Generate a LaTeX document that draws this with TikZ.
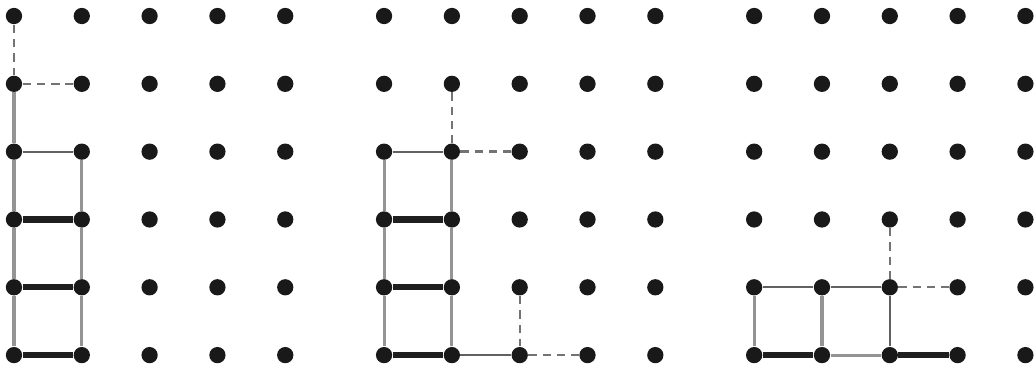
\documentclass[tikz,border=0pt]{standalone}
\begin{document}
\begin{tikzpicture}[x=1cm, y=1cm,
    dot/.style={circle, fill=black!90, inner sep=0pt, minimum size=0.24cm},
    rung/.style={line width=2.6pt, black!88},
    rail/.style={line width=1.3pt, black!42},
    tie/.style={line width=0.9pt, black!62},
    trial/.style={line width=1pt, black!55, dash pattern=on 3.5pt off 2.5pt}]
    \useasboundingbox (-0.206,-0.221) rectangle (15.07,5.236);

    % ==== DOTS ====
    \foreach \g/\ox in {a/0, b/5.457, c/10.914}
        \foreach \i in {0,...,4}
            \foreach \j in {0,...,5}
                \node[dot] (\g\i\j) at (\ox+\i,\j) {};

    % ==== LEFT GRID ====
    \draw[trial] (a05) -- (a04);
    \draw[trial] (a04) -- (a14);
    \draw[rail] (a04) -- (a03);
    \draw[tie] (a03) -- (a13);
    \draw[rail] (a03) -- (a02) -- (a01) -- (a00);
    \draw[rail] (a13) -- (a12) -- (a11) -- (a10);
    \draw[rung] (a02) -- (a12);
    \draw[rung] (a01) -- (a11);
    \draw[rung] (a00) -- (a10);

    % ==== MIDDLE GRID ====
    \draw[trial] (b14) -- (b13);
    \draw[trial] (b13) -- (b23);
    \draw[tie] (b03) -- (b13);
    \draw[rail] (b03) -- (b02) -- (b01) -- (b00);
    \draw[rail] (b13) -- (b12) -- (b11) -- (b10);
    \draw[rung] (b02) -- (b12);
    \draw[rung] (b01) -- (b11);
    \draw[rung] (b00) -- (b10);
    \draw[tie] (b10) -- (b20);
    \draw[trial] (b21) -- (b20);
    \draw[trial] (b20) -- (b30);

    % ==== RIGHT GRID ====
    \draw[trial] (c22) -- (c21);
    \draw[trial] (c21) -- (c31);
    \draw[tie] (c01) -- (c11);
    \draw[tie] (c11) -- (c21);
    \draw[rail] (c01) -- (c00);
    \draw[rail] (c11) -- (c10);
    \draw[tie] (c21) -- (c20);
    \draw[rung] (c00) -- (c10);
    \draw[rail] (c10) -- (c20);
    \draw[rung] (c20) -- (c30);
\end{tikzpicture}
\end{document}
